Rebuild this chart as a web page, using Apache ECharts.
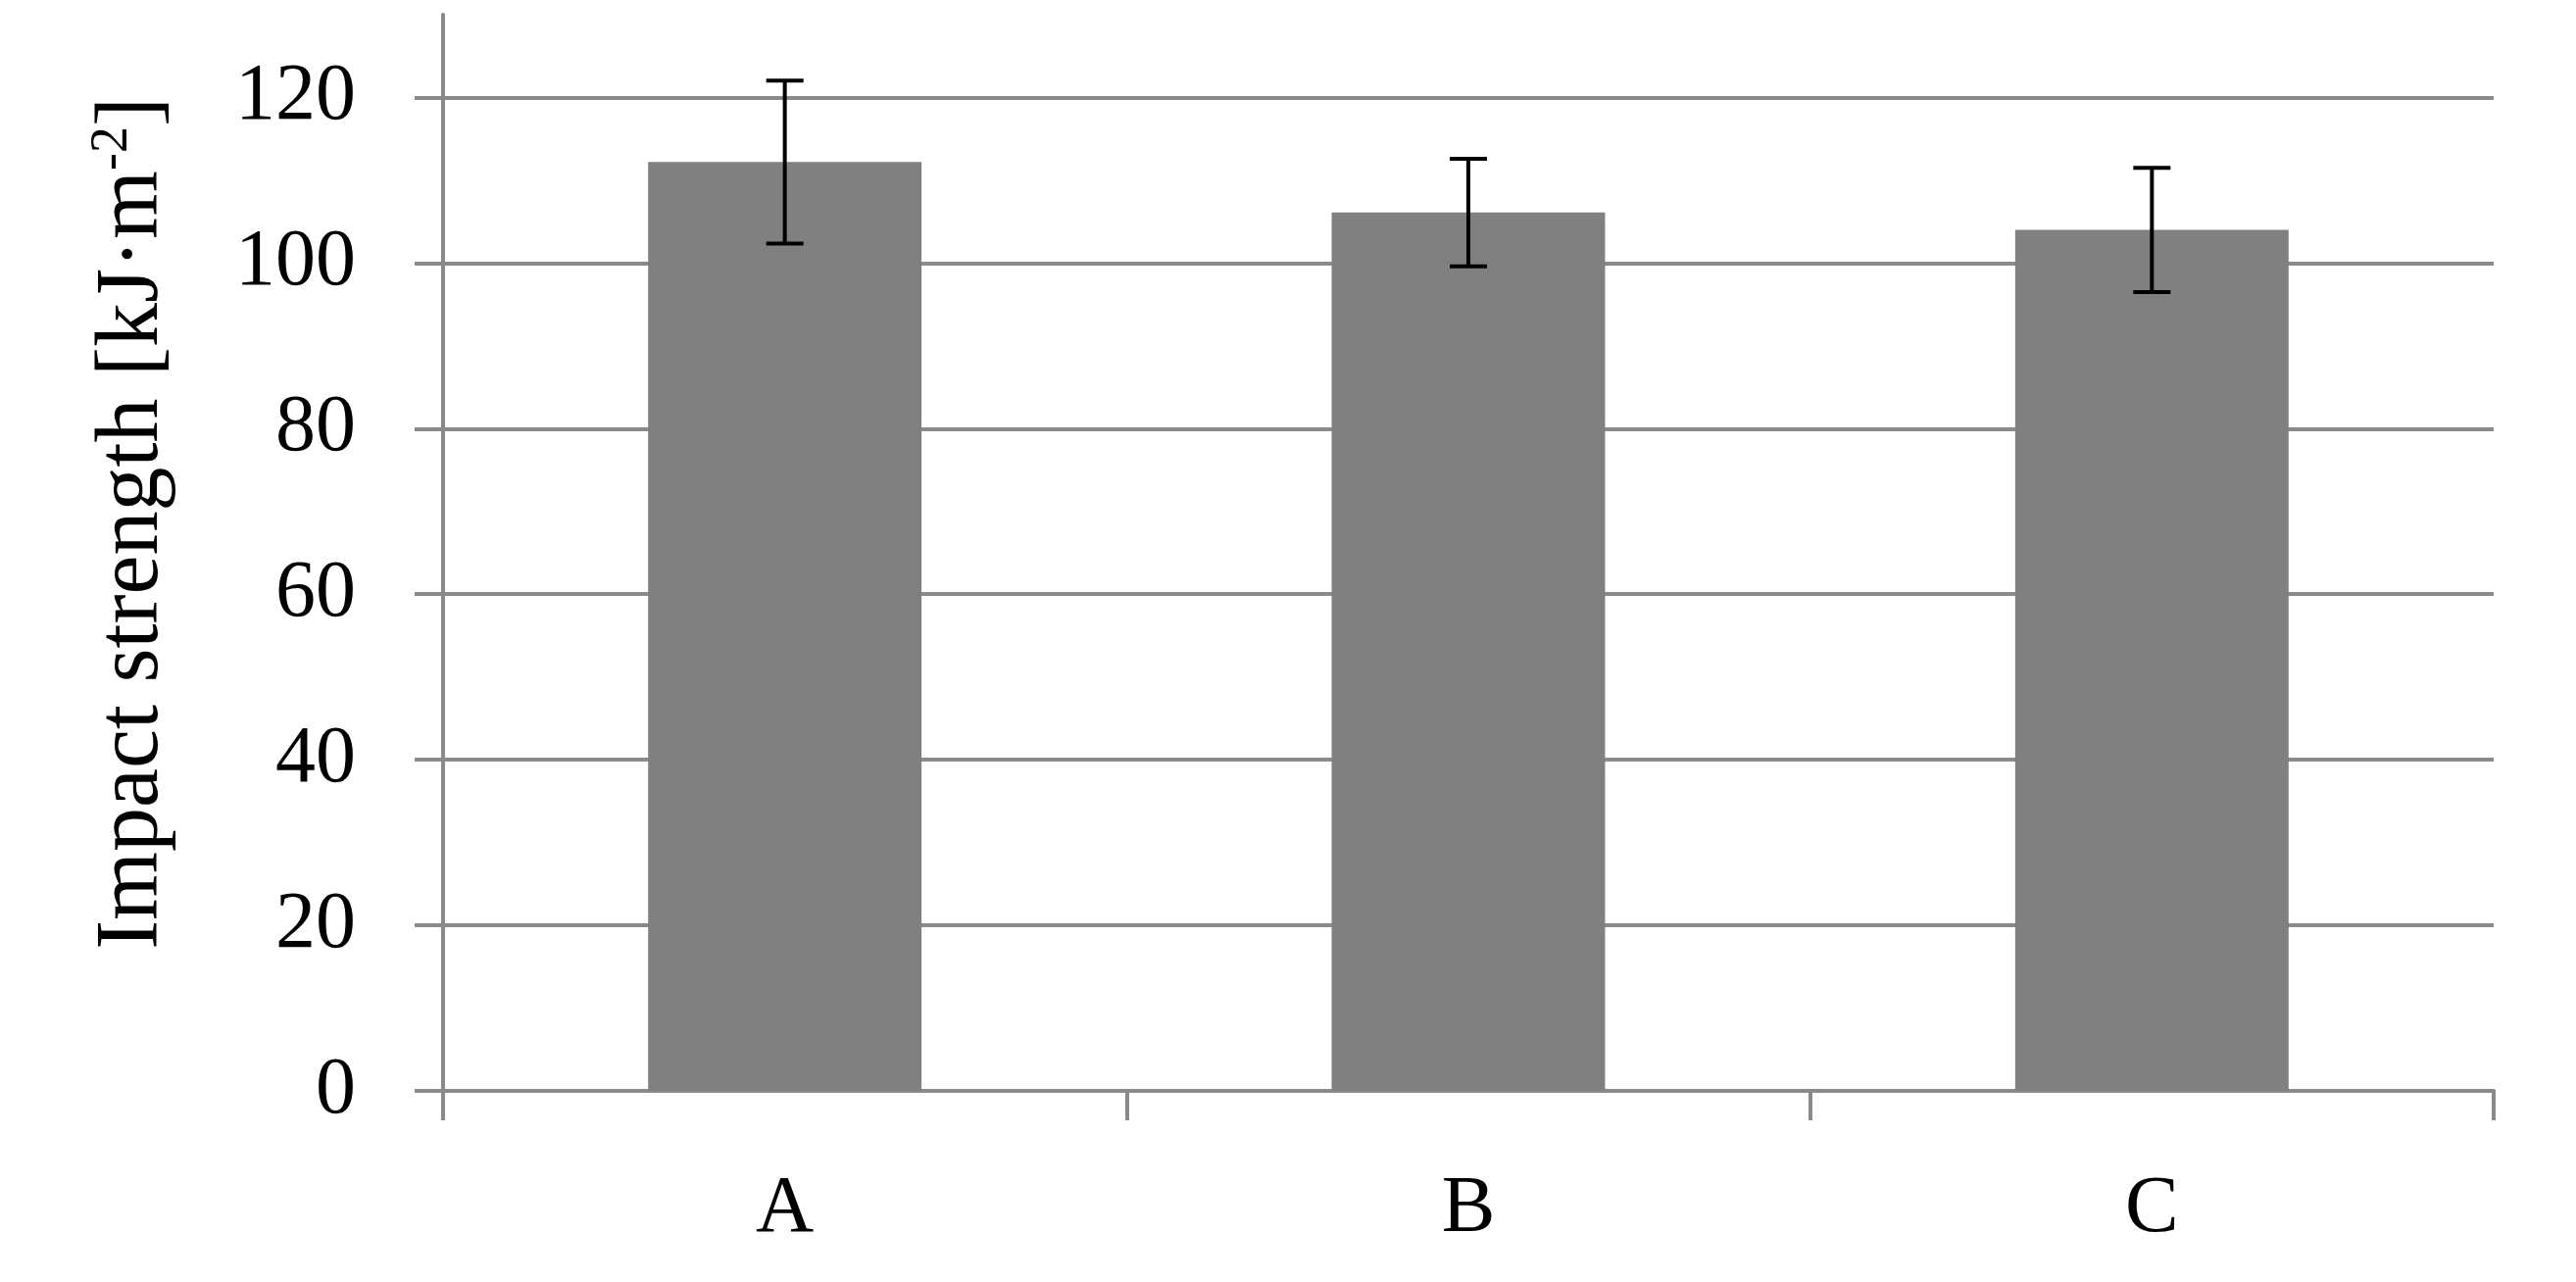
<!DOCTYPE html>
<html>
<head>
<meta charset="utf-8">
<script src="https://cdn.jsdelivr.net/npm/echarts@6/dist/echarts.min.js"></script>
<style>
html,body{margin:0;padding:0;background:#fff;}
#chart{width:2628px;height:1308px;}
</style>
</head>
<body>
<div id="chart"></div>
<script>
const categories = ['A', 'B', 'C'];
const means = [112.2, 106.1, 104.0];
const errors = [9.85, 6.5, 7.5];
const yTicks = [0, 20, 40, 60, 80, 100, 120];
const yMin = 0, yMax = 130, yStep = 20;

const FONT = 'Liberation Serif';
const GRAY = '#8a8a8a';

const chart = echarts.init(document.getElementById('chart'));
chart.setOption({
  animation: false,
  backgroundColor: '#ffffff',
  grid: { left: 452, right: 84, top: 15, bottom: 195, containLabel: false },
  xAxis: {
    type: 'category',
    data: categories,
    boundaryGap: true,
    axisLine: { show: true, lineStyle: { color: GRAY, width: 4 } },
    axisTick: { show: true, alignWithLabel: false, length: 30, lineStyle: { color: GRAY, width: 4 } },
    axisLabel: { color: '#000', fontFamily: FONT, fontSize: 82, margin: 80 },
    splitLine: { show: false }
  },
  yAxis: {
    type: 'value',
    min: yMin, max: yMax, interval: yStep,
    name: '{m|Impact strength [kJ·m}{s|-2}{m|]}',
    nameLocation: 'middle',
    nameRotate: 90,
    nameGap: 268,
    nameTextStyle: {
      padding: [0, 0, 0, 60],
      rich: {
        m: { fontFamily: FONT, fontSize: 90, color: '#000', lineHeight: 96 },
        s: { fontFamily: FONT, fontSize: 54, color: '#000', lineHeight: 64, verticalAlign: 'top' }
      }
    },
    axisLine: { show: true, lineStyle: { color: GRAY, width: 4 } },
    axisTick: { show: true, inside: false, length: 29, customValues: yTicks, lineStyle: { color: GRAY, width: 4 } },
    axisLabel: { color: '#000', fontFamily: FONT, fontSize: 82, margin: 89, customValues: yTicks },
    splitLine: { show: true, lineStyle: { color: GRAY, width: 4 } }
  },
  series: [
    {
      type: 'bar',
      data: means,
      barWidth: '40%',
      itemStyle: { color: '#808080' },
      z: 2
    },
    {
      type: 'custom',
      data: categories.map((c, i) => [i, means[i], errors[i]]),
      z: 5,
      renderItem: function (params, api) {
        const x = api.value(0), y = api.value(1), e = api.value(2);
        const top = api.coord([x, y + e]);
        const bot = api.coord([x, y - e]);
        const hw = 19;
        const st = { stroke: '#000', lineWidth: 4 };
        return {
          type: 'group',
          children: [
            { type: 'line', shape: { x1: top[0], y1: top[1], x2: bot[0], y2: bot[1] }, style: st },
            { type: 'line', shape: { x1: top[0] - hw, y1: top[1], x2: top[0] + hw, y2: top[1] }, style: st },
            { type: 'line', shape: { x1: bot[0] - hw, y1: bot[1], x2: bot[0] + hw, y2: bot[1] }, style: st }
          ]
        };
      }
    }
  ]
});
</script>
</body>
</html>
